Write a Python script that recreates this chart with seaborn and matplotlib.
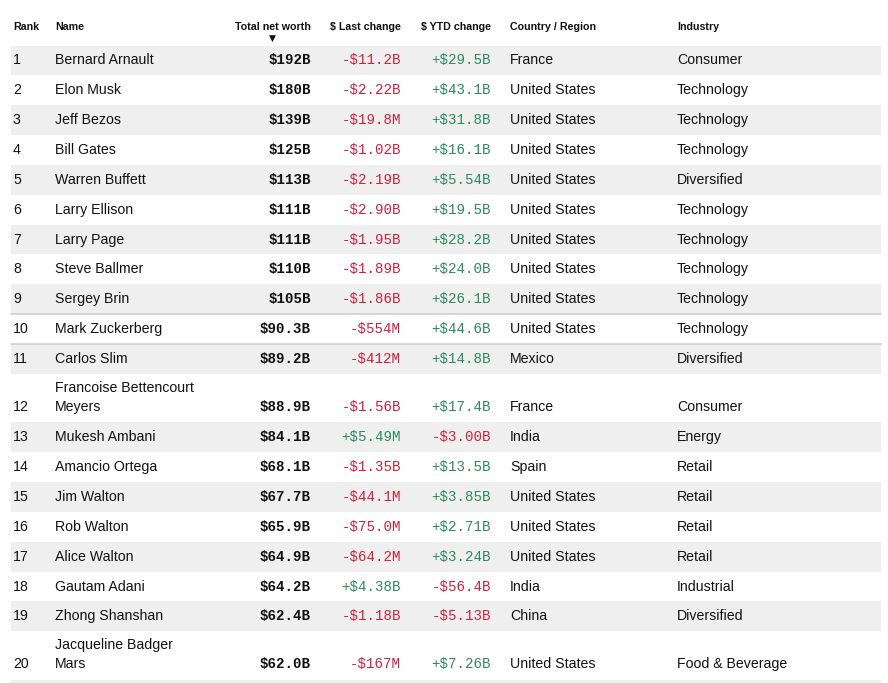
import matplotlib
matplotlib.use("Agg")
import matplotlib.pyplot as plt
import seaborn as sns

ranks = list(range(1, 21))
names = [
    "Bernard Arnault", "Elon Musk", "Jeff Bezos", "Bill Gates", "Warren Buffett",
    "Larry Ellison", "Larry Page", "Steve Ballmer", "Sergey Brin", "Mark Zuckerberg",
    "Carlos Slim", "Francoise Bettencourt\nMeyers", "Mukesh Ambani", "Amancio Ortega",
    "Jim Walton", "Rob Walton", "Alice Walton", "Gautam Adani", "Zhong Shanshan",
    "Jacqueline Badger\nMars",
]
net_worth = [
    "$192B", "$180B", "$139B", "$125B", "$113B", "$111B", "$111B", "$110B", "$105B",
    "$90.3B", "$89.2B", "$88.9B", "$84.1B", "$68.1B", "$67.7B", "$65.9B", "$64.9B",
    "$64.2B", "$62.4B", "$62.0B",
]
last_change = [
    "-$11.2B", "-$2.22B", "-$19.8M", "-$1.02B", "-$2.19B", "-$2.90B", "-$1.95B",
    "-$1.89B", "-$1.86B", "-$554M", "-$412M", "-$1.56B", "+$5.49M", "-$1.35B",
    "-$44.1M", "-$75.0M", "-$64.2M", "+$4.38B", "-$1.18B", "-$167M",
]
ytd_change = [
    "+$29.5B", "+$43.1B", "+$31.8B", "+$16.1B", "+$5.54B", "+$19.5B", "+$28.2B",
    "+$24.0B", "+$26.1B", "+$44.6B", "+$14.8B", "+$17.4B", "-$3.00B", "+$13.5B",
    "+$3.85B", "+$2.71B", "+$3.24B", "-$56.4B", "-$5.13B", "+$7.26B",
]
countries = [
    "France", "United States", "United States", "United States", "United States",
    "United States", "United States", "United States", "United States", "United States",
    "Mexico", "France", "India", "Spain", "United States", "United States",
    "United States", "India", "China", "United States",
]
industries = [
    "Consumer", "Technology", "Technology", "Technology", "Diversified", "Technology",
    "Technology", "Technology", "Technology", "Technology", "Diversified", "Consumer",
    "Energy", "Retail", "Retail", "Retail", "Retail", "Industrial", "Diversified",
    "Food & Beverage",
]
headers = ["Rank", "Name", "Total net worth", "$ Last change", "$ YTD change",
           "Country / Region", "Industry"]

# ---- styling ----
sns.set_theme(style="white")
plt.rcParams["font.family"] = ["Liberation Sans", "DejaVu Sans"]

RED = "#d2203c"
GREEN = "#2b8a5e"
TEXT = "#111111"
SHADE = "#efefef"
RULE = "#cccccc"

# column anchors (pixels) and alignment
col_x = [13, 55, 311, 401, 491, 510, 677]
col_ha = ["left", "left", "right", "right", "right", "left", "left"]

fig = plt.figure(figsize=(8.88, 6.83), dpi=100)
ax = fig.add_axes([0, 0, 1, 1])
ax.set_xlim(0, 888)
ax.set_ylim(683, 0)
ax.axis("off")

x0, x1 = 11, 881

# header
for x, ha, h in zip(col_x, col_ha, headers):
    ax.text(x, 26.5, h, ha=ha, va="center", fontsize=7.7, fontweight="bold", color=TEXT)
# sort arrow under "Total net worth"
ax.text(272, 38.5, "\u25bc", ha="center", va="center", fontsize=6.5, color=TEXT,
        family="DejaVu Sans", transform=ax.transData)

single_h = 29.85
double_h = 48.5
top = 45.5
row_tops = []
for i, name in enumerate(names):
    h = double_h if "\n" in name else single_h
    row_tops.append((top, h))
    if i % 2 == 0:
        ax.axhspan(top, top + h, xmin=x0 / 888, xmax=x1 / 888, color=SHADE, lw=0, zorder=0)
    top += h
# start of the next (cut-off) shaded row
ax.axhspan(top + 0.5, 683, xmin=x0 / 888, xmax=x1 / 888, color=SHADE, lw=0, zorder=0)

# separators around rank 10
for idx in (9, 10):
    t, _ = row_tops[idx]
    ax.plot([x0, x1], [t, t], color=RULE, lw=1.1, zorder=1)


def chg_color(s):
    return GREEN if s.startswith("+") else RED


for i in range(len(names)):
    t, h = row_tops[i]
    lines = names[i].split("\n")
    y = t + h / 2 if len(lines) == 1 else t + h - 15.5
    ax.text(col_x[0], y, str(ranks[i]), ha="left", va="center", fontsize=10.2, color=TEXT)
    for k, ln in enumerate(lines):
        ax.text(col_x[1], y - 19 * (len(lines) - 1 - k), ln, ha="left", va="center",
                fontsize=10.2, color=TEXT)
    ax.text(col_x[2], y, net_worth[i], ha="right", va="center", fontsize=10.2,
            fontweight="bold", family="Liberation Mono", color=TEXT)
    ax.text(col_x[3], y, last_change[i], ha="right", va="center", fontsize=10.2,
            family="Liberation Mono", color=chg_color(last_change[i]))
    ax.text(col_x[4], y, ytd_change[i], ha="right", va="center", fontsize=10.2,
            family="Liberation Mono", color=chg_color(ytd_change[i]))
    ax.text(col_x[5], y, countries[i], ha="left", va="center", fontsize=10.2, color=TEXT)
    ax.text(col_x[6], y, industries[i], ha="left", va="center", fontsize=10.2, color=TEXT)

fig.savefig("out.png", dpi=100)
